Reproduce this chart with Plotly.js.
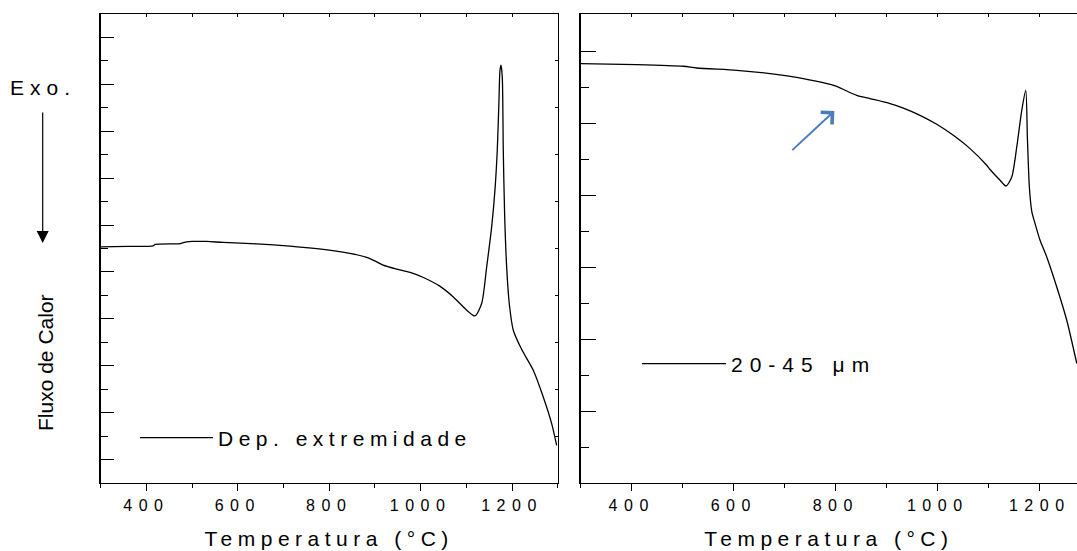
<!DOCTYPE html>
<html>
<head>
<meta charset="utf-8">
<script src="https://cdn.plot.ly/plotly-3.0.1.min.js"></script>
<style>
  html, body { margin: 0; padding: 0; background: #fff; }
  #chart { width: 1077px; height: 551px; }
  .xtick text, .x2tick text { letter-spacing: 6.5px; }
  .xtitle, .x2title { letter-spacing: 5.5px; }
  text.legendtext { letter-spacing: 5.5px; }
  text.legend2text { letter-spacing: 7px; }
  .annotation[data-index="0"] text { letter-spacing: 6px; }
</style>
</head>
<body>
<div id="chart"></div>
<script>
// ---- data ----
const tempLeft = [300, 360, 415, 419, 475, 479, 500, 532, 568, 641, 714, 787, 845, 882, 904, 918, 948, 977, 1006, 1042, 1071.5, 1101, 1119, 1133.6, 1144.6, 1155.5, 1162.7, 1167.8, 1171.5, 1173.7, 1175.9, 1178.7, 1180.9, 1184, 1188.3, 1194, 1202.8, 1221, 1246.5, 1268.4, 1286.8, 1297.7];
const fluxLeft = [5.035, 5.045, 5.057, 5.086, 5.104, 5.121, 5.150, 5.150, 5.129, 5.099, 5.050, 4.980, 4.894, 4.809, 4.715, 4.645, 4.559, 4.489, 4.382, 4.197, 3.968, 3.685, 3.563, 3.828, 4.609, 5.462, 6.245, 7.099, 8.165, 8.801, 8.908, 8.662, 7.099, 5.675, 4.609, 3.828, 3.258, 2.852, 2.405, 1.835, 1.267, 0.804];

const tempRight = [300, 409.8, 501.2, 527.5, 605.9, 671.2, 736.5, 802, 821.6, 841.2, 867.3, 906.5, 932.6, 965.3, 998, 1030.6, 1063.3, 1096, 1102.6, 1122.2, 1133.9, 1145.1, 1154.9, 1164.7, 1172.5, 1175.7, 1179.6, 1184.3, 1190.8, 1200.6, 1213.7, 1233.3, 1252.9, 1272.6];
const fluxRight = [5.825, 5.811, 5.788, 5.764, 5.732, 5.686, 5.617, 5.510, 5.444, 5.385, 5.339, 5.269, 5.208, 5.107, 4.982, 4.829, 4.644, 4.413, 4.354, 4.204, 4.125, 4.250, 4.667, 5.176, 5.454, 4.806, 4.111, 3.774, 3.603, 3.371, 3.139, 2.722, 2.260, 1.658];

const seriesNames = ['Dep. extremidade', '20-45 μm'];
const xTitle = 'Temperatura (°C)';
const yTitle = 'Fluxo de Calor';
const exoLabel = 'Exo.';

// ---- styling ----
const FONT = 'Liberation Sans, Arial, Helvetica, sans-serif';
const W = 1077, H = 551, MT = 14, MB = 68;
const plotH = H - MT - MB;
const px = v => v / W;                 // page x -> paper x (margins l=r=0)
const py = v => (H - MB - v) / plotH;  // page y -> paper y

const baseX = {
  range: [300, 1300], tick0: 400, dtick: 200,
  ticks: 'outside', ticklen: 7, tickwidth: 1, tickcolor: '#000',
  minor: { tick0: 300, dtick: 100, ticks: 'outside', ticklen: 4, tickwidth: 1, tickcolor: '#000' },
  showline: true, linecolor: '#000', linewidth: 1.3,
  showgrid: false, zeroline: false,
  tickfont: { family: FONT, size: 16, color: '#000' },
  title: { text: xTitle, font: { family: FONT, size: 21, color: '#000' }, standoff: 18 },
  fixedrange: true
};
const topX = {
  tick0: 300, dtick: 100, ticks: 'inside', ticklen: 3, tickwidth: 1, tickcolor: '#000',
  showline: true, linecolor: '#000', linewidth: 1.3, side: 'top',
  showticklabels: false, showgrid: false, zeroline: false, fixedrange: true
};
const lineStyle = { color: '#000', width: 1.3, shape: 'spline', smoothing: 0.7 };

const traces = [
  { x: tempLeft, y: fluxLeft, type: 'scatter', mode: 'lines', name: seriesNames[0],
    xaxis: 'x', yaxis: 'y', legend: 'legend', line: lineStyle },
  { x: tempRight, y: fluxRight, type: 'scatter', mode: 'lines', name: seriesNames[1],
    xaxis: 'x2', yaxis: 'y2', legend: 'legend2', line: lineStyle },
  // empty traces only so that the frame axes (top / right tick rows) are drawn
  { x: [], y: [], type: 'scatter', mode: 'lines', xaxis: 'x3', yaxis: 'y3',
    showlegend: false, hoverinfo: 'skip' },
  { x: [], y: [], type: 'scatter', mode: 'lines', xaxis: 'x4', yaxis: 'y4',
    showlegend: false, hoverinfo: 'skip' }
];

const layout = {
  width: W, height: H,
  margin: { l: 0, r: 0, t: MT, b: MB, pad: 0 },
  paper_bgcolor: '#fff', plot_bgcolor: '#fff',
  font: { family: FONT, color: '#000' },
  showlegend: true,
  xaxis: Object.assign({}, baseX, { domain: [px(100.7), px(557.7)], anchor: 'y' }),
  yaxis: {
    domain: [0, 1], anchor: 'x', range: [0, 10], tick0: 0, dtick: 1,
    ticks: 'inside', ticklen: 7, tickwidth: 1, tickcolor: '#000',
    minor: { dtick: 0.5, ticks: 'inside', ticklen: 13, tickwidth: 1, tickcolor: '#000' },
    showline: true, linecolor: '#000', linewidth: 1.3,
    showticklabels: false, showgrid: false, zeroline: false, fixedrange: true
  },
  xaxis3: Object.assign({}, topX, { overlaying: 'x', anchor: 'y3', range: [300, 1300] }),
  yaxis3: {
    overlaying: 'y', anchor: 'x3', side: 'right', range: [0, 10], tick0: 0, dtick: 1,
    ticks: 'inside', ticklen: 3, tickwidth: 1, tickcolor: '#000',
    showline: true, linecolor: '#000', linewidth: 1.3,
    showticklabels: false, showgrid: false, zeroline: false, fixedrange: true
  },
  xaxis2: Object.assign({}, baseX, { domain: [px(580.7), 1], anchor: 'y2', range: [300, 1273] }),
  yaxis2: {
    domain: [0, 1], anchor: 'x2', range: [0, plotH / 72], tick0: 0, dtick: 1,
    ticks: 'inside', ticklen: 15, tickwidth: 1, tickcolor: '#000',
    minor: { dtick: 0.5, ticks: 'inside', ticklen: 8, tickwidth: 1, tickcolor: '#000' },
    showline: true, linecolor: '#000', linewidth: 1.3,
    showticklabels: false, showgrid: false, zeroline: false, fixedrange: true
  },
  xaxis4: Object.assign({}, topX, { overlaying: 'x2', anchor: 'y4', range: [300, 1273] }),
  yaxis4: {
    overlaying: 'y2', anchor: 'x4', side: 'right', range: [0, plotH / 72],
    showline: false, ticks: '', showticklabels: false, showgrid: false, zeroline: false, fixedrange: true
  },
  legend: {
    x: px(135), y: py(438), xanchor: 'left', yanchor: 'middle',
    bgcolor: 'rgba(0,0,0,0)', borderwidth: 0, itemwidth: 73,
    font: { family: FONT, size: 21, color: '#000' }
  },
  legend2: {
    x: px(637), y: py(364), xanchor: 'left', yanchor: 'middle',
    bgcolor: 'rgba(0,0,0,0)', borderwidth: 0, itemwidth: 84,
    font: { family: FONT, size: 21, color: '#000' }
  },
  annotations: [
    { text: exoLabel, xref: 'paper', yref: 'paper', x: px(43), y: py(87),
      xanchor: 'center', yanchor: 'middle', showarrow: false,
      font: { family: FONT, size: 21, color: '#000' } },
    { text: '', xref: 'paper', yref: 'paper', x: px(42.7), y: py(243),
      showarrow: true, ax: 0, ay: -132, arrowhead: 2, arrowsize: 2, arrowwidth: 1.2,
      arrowcolor: '#000', standoff: 0 },
    { text: yTitle, xref: 'paper', yref: 'paper', x: px(45), y: py(363),
      xanchor: 'center', yanchor: 'middle', textangle: -90, showarrow: false,
      font: { family: FONT, size: 21, color: '#000' } },
    { text: '', xref: 'x2', yref: 'y2', x: 797.3, y: 5.167,
      axref: 'x2', ayref: 'y2', ax: 711.8, ay: 4.604,
      showarrow: true, arrowhead: 4, arrowsize: 1.6, arrowwidth: 2,
      arrowcolor: '#4a7ebb', standoff: 0 }
  ]
};

Plotly.newPlot('chart', traces, layout, { staticPlot: true, displayModeBar: false });
</script>
</body>
</html>
